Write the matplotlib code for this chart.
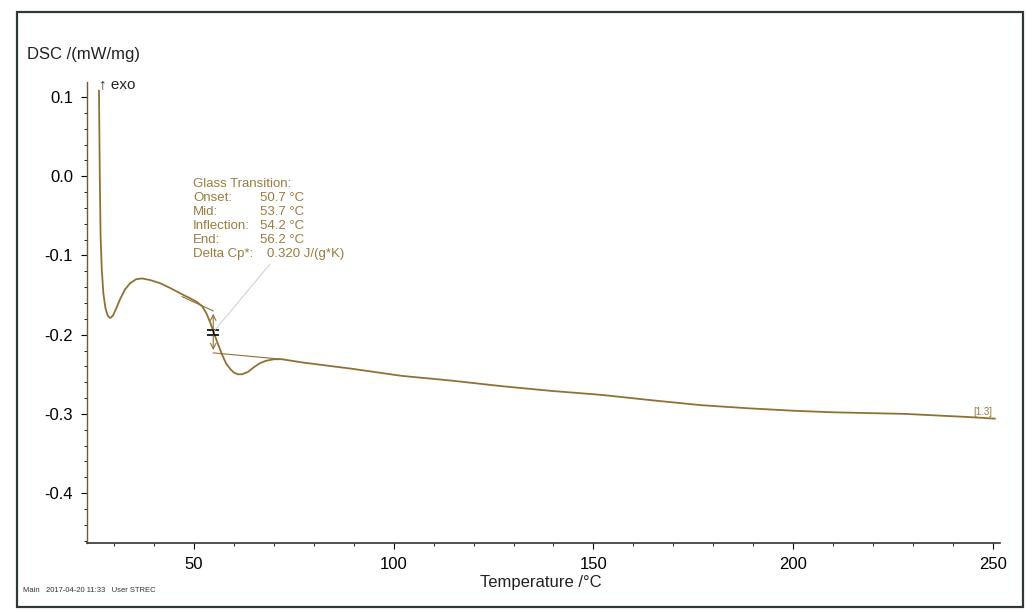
import matplotlib.pyplot as plt
from matplotlib.patches import Rectangle
from matplotlib.ticker import MultipleLocator

plt.rcParams['font.family'] = ['Liberation Sans', 'DejaVu Sans']

# --------------------------------------------------
# Data
# --------------------------------------------------

temp = [26.2, 26.4, 26.6, 26.9, 27.3, 27.8, 28.4, 29.0, 29.7, 30.5,
        31.5, 32.7, 34.0, 35.5, 37.0, 39.0, 41.5, 44.0, 47.0, 49.0,
        50.8, 52.0, 53.0, 54.0, 55.0, 56.0, 57.0, 58.0, 59.0, 60.0,
        61.0, 62.0, 63.5, 65.0, 66.5, 68.0, 70.0, 72.0, 77.0, 89.5,
        102.0, 114.5, 127.0, 139.5, 152.0, 165.0, 177.0, 189.0, 200.0, 210.0,
        219.0, 228.0, 236.0, 244.0, 250.5]
dsc = [0.108, 0.000, -0.075, -0.118, -0.148, -0.166, -0.176, -0.179, -0.176, -0.167,
       -0.155, -0.143, -0.135, -0.130, -0.129, -0.131, -0.135, -0.141, -0.149, -0.154,
       -0.159, -0.164, -0.172, -0.184, -0.198, -0.212, -0.225, -0.236, -0.243, -0.248,
       -0.250, -0.250, -0.247, -0.241, -0.236, -0.233, -0.231, -0.231, -0.235, -0.243,
       -0.252, -0.258, -0.265, -0.271, -0.276, -0.283, -0.289, -0.293, -0.296, -0.298,
       -0.299, -0.300, -0.302, -0.304, -0.306]

# glass transition construction lines
upper_tangent_t = [47.0, 54.8]
upper_tangent_v = [-0.152, -0.170]
lower_tangent_t = [54.8, 72.0]
lower_tangent_v = [-0.223, -0.231]
inflection_t = 54.8
inflection_v = -0.197

gt_labels = ["Glass Transition:", "Onset:", "Mid:", "Inflection:", "End:", "Delta Cp*:"]
gt_values = ["", "50.7 °C", "53.7 °C", "54.2 °C", "56.2 °C", "0.320 J/(g*K)"]

x_ticks = [50, 100, 150, 200, 250]
y_ticks = [-0.4, -0.3, -0.2, -0.1, 0.0, 0.1]

curve_color = "#8f7136"
text_color = "#9b7b3e"

W, H = 1027, 612


def fx(px):
    return px / W


def fy(py):
    return 1 - py / H


# --------------------------------------------------
# Figure
# --------------------------------------------------

fig = plt.figure(figsize=(W / 100, H / 100), dpi=100)
ax = fig.add_axes([fx(87), fy(543), fx(1000) - fx(87), fy(82) - fy(543)])

ax.plot(temp, dsc, color=curve_color, lw=1.3)
ax.plot(upper_tangent_t, upper_tangent_v, color=curve_color, lw=0.8)
ax.plot(lower_tangent_t, lower_tangent_v, color=curve_color, lw=0.8)

# step arrows at the inflection point
ax.annotate("", xy=(inflection_t, upper_tangent_v[1]), xytext=(inflection_t, inflection_v),
            arrowprops=dict(arrowstyle="->", color=curve_color, lw=0.8))
ax.annotate("", xy=(inflection_t, lower_tangent_v[0]), xytext=(inflection_t, inflection_v),
            arrowprops=dict(arrowstyle="->", color=curve_color, lw=0.8))
ax.plot([inflection_t, inflection_t], [inflection_v - 0.003, inflection_v + 0.003],
        color="black", lw=1.0)
ax.plot([inflection_t] * 2, [inflection_v - 0.003, inflection_v + 0.003],
        ls="none", marker="_", ms=9, mew=1.2, color="black")

# leader line to the result box
ax.plot([inflection_t + 0.3, 69.0], [inflection_v + 0.002, -0.111], color="#c4c4c4", lw=0.6)

ax.set_xlim(23.2, 251.8)
ax.set_ylim(-0.463, 0.119)

ax.set_xticks(x_ticks)
ax.set_yticks(y_ticks)
ax.set_yticklabels([f"{v:.1f}".replace("-0.0", "0.0") for v in y_ticks])
ax.xaxis.set_minor_locator(MultipleLocator(10))
ax.yaxis.set_minor_locator(MultipleLocator(0.02))
ax.tick_params(which="major", direction="out", length=4, width=0.8, labelsize=12, pad=6)
ax.tick_params(which="minor", direction="out", length=2, width=0.6)

for side in ["top", "right"]:
    ax.spines[side].set_visible(False)
ax.spines["left"].set_color("#6e5a35")
ax.spines["bottom"].set_color("#333333")
ax.spines["left"].set_linewidth(1.0)
ax.spines["bottom"].set_linewidth(1.2)

# --------------------------------------------------
# Text
# --------------------------------------------------

fig.text(fx(27), fy(55), "DSC /(mW/mg)", fontsize=12, va="center", ha="left", color="#222222")
fig.text(fx(99), fy(84), "↑ exo", fontsize=11, va="center", ha="left", color="#222222")
fig.text(fx(541), fy(582), "Temperature /°C", fontsize=12, va="center", ha="center", color="#222222")
fig.text(fx(23), fy(590), "Main   2017-04-20 11:33   User STREC", fontsize=5.5,
         va="center", ha="left", color="#333333")
fig.text(fx(973), fy(412), "[1.3]", fontsize=7, va="center", ha="left", color=text_color)

for i, (lab, val) in enumerate(zip(gt_labels, gt_values)):
    y = fy(184 + 14 * i)
    fig.text(fx(193), y, lab, fontsize=9.5, va="center", ha="left", color=text_color)
    if val:
        xv = 267 if i == len(gt_labels) - 1 else 260
        fig.text(fx(xv), y, val, fontsize=9.5, va="center", ha="left", color=text_color)

# frame around the printout
fig.patches.append(Rectangle((fx(17), fy(607)), fx(1023) - fx(17), fy(12) - fy(607),
                             transform=fig.transFigure, fill=False, lw=1.6,
                             edgecolor="#2f3a36"))

plt.savefig("out.png", dpi=100)
